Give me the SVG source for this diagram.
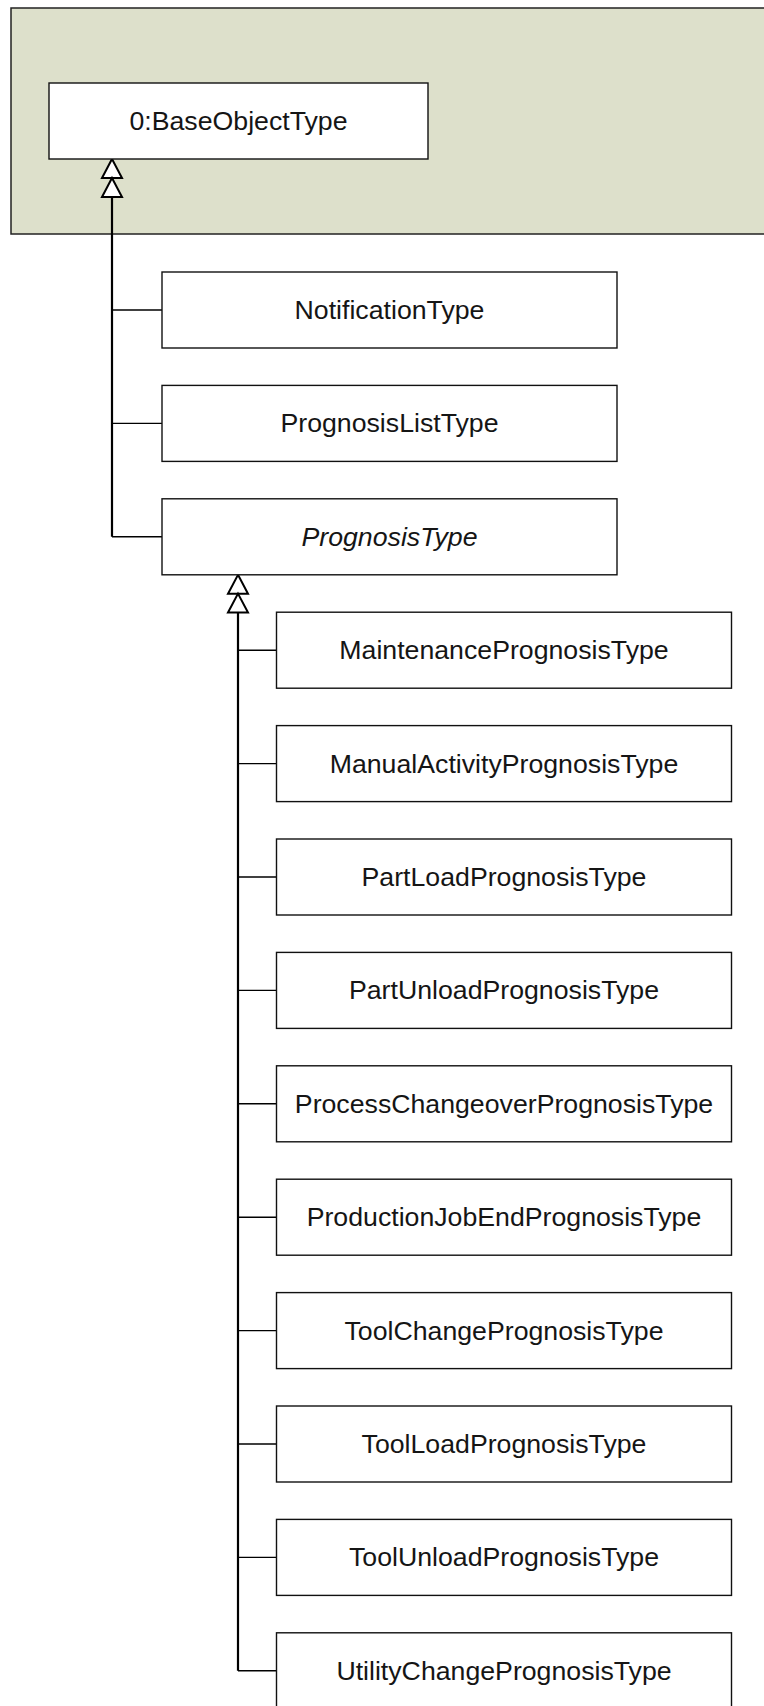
<svg xmlns="http://www.w3.org/2000/svg" width="764" height="1706" viewBox="0 0 764 1706">
  <style>
    .pkg { fill: #dde0cb; stroke: #222; stroke-width: 1.5; }
    .box { fill: #ffffff; stroke: #111; stroke-width: 1.4; }
    .lbl { font-family: "Liberation Sans", Arial, sans-serif; font-size: 26.7px; fill: #151515; text-anchor: middle; }
    .abs { font-style: italic; }
    .trunk { fill: none; stroke: #000; stroke-width: 2.2; }
    .branch { fill: none; stroke: #000; stroke-width: 1.4; }
    .head { fill: #fff; stroke: #000; stroke-width: 2; stroke-linejoin: miter; }
  </style>
  <defs>
    <!-- hollow generalization triangle, tip at origin, pointing up -->
    <path id="tri" class="head" d="M0,0 L10,19 L-10,19 Z"/>
  </defs>

  <!-- package background -->
  <rect id="pkg-bg" class="pkg" x="11" y="8" width="760" height="226"/>

  <!-- connectors -->
  <g id="connectors">
    <!-- to 0:BaseObjectType -->
    <path class="trunk" d="M112,197 V536.8"/>
    <path class="branch" d="M112,310 H162"/>
    <path class="branch" d="M112,423.4 H162"/>
    <path class="branch" d="M112,536.8 H162"/>
    <use href="#tri" x="112" y="159"/>
    <use href="#tri" x="112" y="178"/>

    <!-- to PrognosisType -->
    <path class="trunk" d="M238,612.5 V1670.8"/>
    <path class="branch" d="M238,650.2 H276.5"/>
    <path class="branch" d="M238,763.6 H276.5"/>
    <path class="branch" d="M238,877 H276.5"/>
    <path class="branch" d="M238,990.4 H276.5"/>
    <path class="branch" d="M238,1103.8 H276.5"/>
    <path class="branch" d="M238,1217.2 H276.5"/>
    <path class="branch" d="M238,1330.6 H276.5"/>
    <path class="branch" d="M238,1444 H276.5"/>
    <path class="branch" d="M238,1557.4 H276.5"/>
    <path class="branch" d="M238,1670.8 H276.5"/>
    <use href="#tri" x="238" y="574.8"/>
    <use href="#tri" x="238" y="593.6"/>
  </g>

  <g id="BaseObjectType">
    <rect class="box" x="49" y="83" width="379" height="76"/>
    <text class="lbl" x="238.5" y="130">0:BaseObjectType</text>
  </g>

  <g id="NotificationType">
    <rect class="box" x="162" y="272" width="455" height="76"/>
    <text class="lbl" x="389.5" y="319">NotificationType</text>
  </g>
  <g id="PrognosisListType">
    <rect class="box" x="162" y="385.4" width="455" height="76"/>
    <text class="lbl" x="389.5" y="432.4">PrognosisListType</text>
  </g>
  <g id="PrognosisType">
    <rect class="box" x="162" y="498.8" width="455" height="76"/>
    <text class="lbl abs" x="389.5" y="545.8">PrognosisType</text>
  </g>

  <g id="MaintenancePrognosisType">
    <rect class="box" x="276.5" y="612.2" width="455" height="76"/>
    <text class="lbl" x="504" y="659.2">MaintenancePrognosisType</text>
  </g>
  <g id="ManualActivityPrognosisType">
    <rect class="box" x="276.5" y="725.6" width="455" height="76"/>
    <text class="lbl" x="504" y="772.6">ManualActivityPrognosisType</text>
  </g>
  <g id="PartLoadPrognosisType">
    <rect class="box" x="276.5" y="839" width="455" height="76"/>
    <text class="lbl" x="504" y="886">PartLoadPrognosisType</text>
  </g>
  <g id="PartUnloadPrognosisType">
    <rect class="box" x="276.5" y="952.4" width="455" height="76"/>
    <text class="lbl" x="504" y="999.4">PartUnloadPrognosisType</text>
  </g>
  <g id="ProcessChangeoverPrognosisType">
    <rect class="box" x="276.5" y="1065.8" width="455" height="76"/>
    <text class="lbl" x="504" y="1112.8">ProcessChangeoverPrognosisType</text>
  </g>
  <g id="ProductionJobEndPrognosisType">
    <rect class="box" x="276.5" y="1179.2" width="455" height="76"/>
    <text class="lbl" x="504" y="1226.2">ProductionJobEndPrognosisType</text>
  </g>
  <g id="ToolChangePrognosisType">
    <rect class="box" x="276.5" y="1292.6" width="455" height="76"/>
    <text class="lbl" x="504" y="1339.6">ToolChangePrognosisType</text>
  </g>
  <g id="ToolLoadPrognosisType">
    <rect class="box" x="276.5" y="1406" width="455" height="76"/>
    <text class="lbl" x="504" y="1453">ToolLoadPrognosisType</text>
  </g>
  <g id="ToolUnloadPrognosisType">
    <rect class="box" x="276.5" y="1519.4" width="455" height="76"/>
    <text class="lbl" x="504" y="1566.4">ToolUnloadPrognosisType</text>
  </g>
  <g id="UtilityChangePrognosisType">
    <rect class="box" x="276.5" y="1632.8" width="455" height="76"/>
    <text class="lbl" x="504" y="1679.8">UtilityChangePrognosisType</text>
  </g>
</svg>
